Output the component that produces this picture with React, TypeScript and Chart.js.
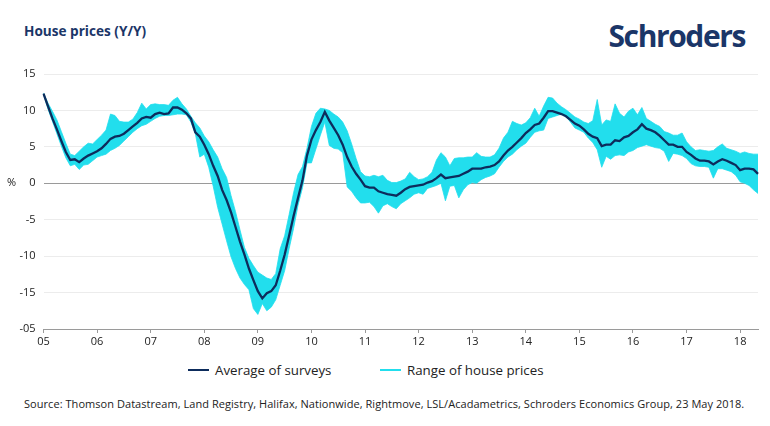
import React, { useEffect, useRef } from "react";
import { Chart, registerables } from "chart.js";

Chart.register(...registerables);

// ---------- data ----------
const YEARS = ["05", "06", "07", "08", "09", "10", "11", "12", "13", "14", "15", "16", "17", "18"];
const MONTHS_IN_LAST_YEAR = 5;

// Average of surveys, Y/Y %, monthly Jan 2005 .. May 2018
const AVERAGE = [
  12.3, 10.6, 8.9, 7.4, 5.8, 4.3, 3.2, 3.3, 2.9, 3.4, 3.8, 4.1,
  4.4, 4.8, 5.4, 6.1, 6.4, 6.5, 6.8, 7.3, 7.8, 8.3, 8.9, 9.1,
  9.0, 9.5, 9.7, 9.5, 9.6, 10.4, 10.4, 10.1, 9.6, 8.9, 7.0, 6.4,
  5.3, 4.0, 2.4, 1.0, -0.9, -2.3, -4.0, -6.0, -8.0, -9.8, -11.7, -13.3,
  -14.8, -15.8, -15.1, -14.8, -14.0, -12.0, -9.8, -7.2, -4.5, -2.0, 0.4, 3.8,
  6.0, 7.3, 8.4, 9.8, 8.6, 7.6, 6.6, 5.3, 3.6, 2.3, 1.3, 0.5,
  -0.4, -0.6, -0.6, -1.1, -1.3, -1.5, -1.6, -1.7, -1.3, -0.8, -0.5, -0.4,
  -0.3, -0.2, 0.1, 0.3, 0.7, 1.2, 0.7, 0.8, 0.9, 1.0, 1.3, 1.6,
  2.0, 2.0, 2.0, 2.2, 2.3, 2.5, 3.0, 3.8, 4.5, 5.0, 5.6, 6.2,
  6.9, 7.4, 8.0, 8.2, 9.0, 9.9, 9.9, 9.7, 9.5, 9.2, 8.7, 8.2,
  7.9, 7.4, 6.8, 6.4, 6.2, 5.1, 5.3, 5.3, 5.9, 5.8, 6.3, 6.5,
  7.0, 7.4, 8.1, 7.5, 7.3, 7.0, 6.5, 5.9, 5.3, 5.3, 5.0, 5.0,
  4.3, 3.9, 3.4, 3.1, 3.1, 3.0, 2.6, 3.0, 3.3, 3.1, 2.8, 2.5,
  1.8, 2.0, 2.0, 1.9, 1.3,
];

// Range of house prices: highest survey
const RANGE_HIGH = [
  12.4, 11.0, 9.9, 8.7, 7.1, 5.5, 4.0, 3.8, 4.4, 5.0, 5.5, 5.4,
  6.0, 6.6, 7.3, 9.5, 9.3, 8.5, 8.4, 8.4, 8.8, 9.7, 11.0, 10.2,
  10.8, 10.9, 10.8, 10.8, 10.7, 11.4, 11.8, 10.9, 10.2, 9.2, 8.3, 7.6,
  6.5, 5.7, 4.6, 3.6, 2.0, 0.8, -1.7, -3.9, -6.4, -8.8, -10.3, -11.3,
  -12.2, -12.6, -13.0, -13.2, -12.4, -9.0, -7.2, -4.3, -1.3, 1.2, 2.3, 4.8,
  7.8, 9.6, 10.3, 10.2, 10.0, 9.5, 9.1, 8.4, 7.2, 5.4, 3.4, 1.6,
  1.0, 0.9, 1.1, 0.9, 1.1, 0.4, 0.1, 0.1, 0.3, 0.6, 1.5, 0.9,
  0.5, 0.6, 0.9, 1.5, 3.2, 4.2, 3.6, 2.4, 3.4, 3.5, 3.5, 3.6,
  3.6, 4.2, 3.7, 3.6, 3.6, 3.9, 4.8, 6.2, 7.0, 8.5, 8.2, 8.0,
  8.3, 9.0, 10.3, 9.2, 10.6, 11.8, 11.7, 11.0, 10.5, 10.1, 9.6, 9.1,
  8.8, 8.4, 8.2, 8.6, 11.5, 8.0, 8.7, 8.5, 10.9, 9.6, 9.1, 9.9,
  10.3, 9.4, 10.4, 8.9, 8.5, 8.1, 7.8, 7.1, 6.9, 6.6, 6.6, 6.9,
  5.7, 5.0, 4.5, 4.6, 4.5, 4.4, 4.5, 5.0, 5.4, 4.8, 4.6, 4.4,
  4.1, 4.3, 4.1, 4.0, 4.0,
];

// Range of house prices: lowest survey
const RANGE_LOW = [
  12.2, 10.2, 8.5, 6.8, 5.1, 3.5, 2.4, 2.6, 1.9, 2.5, 2.6, 3.1,
  3.6, 3.8, 4.0, 4.5, 4.8, 5.2, 5.8, 6.4, 7.0, 7.5, 7.9, 8.1,
  8.5, 8.9, 9.2, 9.3, 9.3, 9.4, 9.5, 9.5, 9.4, 8.4, 6.8, 3.6,
  4.0, 2.2, -0.4, -3.3, -5.6, -7.9, -10.1, -11.7, -13.0, -13.9, -14.6, -17.2,
  -18.0, -16.5, -17.5, -17.0, -16.0, -14.0, -12.0, -9.0, -6.2, -3.0, -0.6, 2.8,
  2.8, 4.7, 6.6, 8.4, 5.2, 4.8, 4.7, 4.2, -0.5, -1.1, -2.0, -2.7,
  -2.7, -2.6, -3.2, -4.1, -3.1, -2.8, -3.2, -3.5, -2.8, -2.4, -2.0, -1.5,
  -1.3, -1.5, -0.7, -0.5, -0.3, 0.0, -2.4, -0.4, -0.3, -2.0, -0.9, -0.2,
  0.1, 0.0, 0.5, 0.8, 1.0, 1.3, 2.2, 3.0, 3.6, 4.0, 4.6, 5.1,
  5.5, 6.3, 7.0, 7.2, 7.3, 8.9, 9.1, 9.3, 9.5, 9.2, 8.4, 7.6,
  7.3, 7.0, 6.2, 5.6, 4.6, 2.2, 3.7, 3.3, 3.8, 3.9, 3.8, 4.3,
  4.5, 4.9, 5.1, 5.3, 5.1, 4.9, 4.8, 4.4, 3.0, 4.1, 4.0, 3.8,
  3.4, 2.7, 2.4, 2.3, 2.3, 2.2, 0.7, 2.0, 2.0, 1.8, 1.6, 1.1,
  0.2, 0.0, -0.3, -0.9, -1.4,
];

const Y_TICK_VALUES = [15, 10, 5, 0, -5, -10, -15, -20];
const Y_TICK_LABELS = ["15", "10", "5", "0", "-5", "-10", "-15", "-05"];

const SERIES_NAMES = ["Average of surveys", "Range of house prices"];
const SERIES_COLORS = ["#0d2c5c", "#22deed"];

const TITLE = "House prices (Y/Y)";
const BRAND = "Schroders";
const UNIT = "%";
const SOURCE =
  "Source: Thomson Datastream, Land Registry, Halifax, Nationwide, Rightmove, LSL/Acadametrics, Schroders Economics Group, 23 May 2018.";

const MONTH_LABELS: string[] = YEARS.flatMap((y, i) =>
  Array.from({ length: i === YEARS.length - 1 ? MONTHS_IN_LAST_YEAR : 12 }, () => y)
);

const FONT = "'Open Sans', 'DejaVu Sans', sans-serif";
const NAVY = "#1b3668";

export default function App() {
  const canvasRef = useRef<HTMLCanvasElement>(null);

  useEffect(() => {
    const canvas = canvasRef.current;
    if (!canvas) return;
    const chart = new Chart(canvas, {
      type: "line",
      data: {
        labels: MONTH_LABELS,
        datasets: [
          {
            label: SERIES_NAMES[0],
            data: AVERAGE,
            borderColor: SERIES_COLORS[0],
            backgroundColor: SERIES_COLORS[0],
            borderWidth: 2.3,
            pointRadius: 0,
            tension: 0,
            fill: false,
          },
          {
            label: SERIES_NAMES[1],
            data: RANGE_HIGH,
            borderColor: SERIES_COLORS[1],
            backgroundColor: SERIES_COLORS[1],
            borderWidth: 0.8,
            pointRadius: 0,
            tension: 0,
            fill: "+1",
          },
          {
            label: SERIES_NAMES[1] + " (low)",
            data: RANGE_LOW,
            borderColor: SERIES_COLORS[1],
            backgroundColor: SERIES_COLORS[1],
            borderWidth: 0.8,
            pointRadius: 0,
            tension: 0,
            fill: false,
          },
        ],
      },
      options: {
        responsive: false,
        animation: false,
        events: [],
        layout: { padding: { left: 0, right: 12, top: 74, bottom: 0 } },
        plugins: {
          legend: { display: false },
          tooltip: { enabled: false },
        },
        scales: {
          x: {
            type: "category",
            grid: {
              display: true,
              drawOnChartArea: false,
              drawTicks: true,
              tickLength: 4,
              color: "#9a9a9a",
            },
            border: { display: true, color: "#9a9a9a", width: 1 },
            ticks: {
              autoSkip: false,
              maxRotation: 0,
              padding: 2,
              color: "#222",
              font: { family: FONT, size: 11 },
              callback: (_v: any, index: number) => (index % 12 === 0 ? MONTH_LABELS[index] : null),
            },
            afterFit: (scale: any) => {
              scale.height = 22;
            },
          },
          y: {
            min: -20,
            max: 15,
            grid: {
              drawTicks: false,
              color: (ctx: any) => (ctx.tick && ctx.tick.value === 0 ? "#9a9a9a" : "#ececec"),
              lineWidth: 1,
            },
            border: { display: false },
            ticks: {
              stepSize: 5,
              padding: 8,
              color: "#222",
              font: { family: FONT, size: 11 },
              callback: (v: any) => {
                const i = Y_TICK_VALUES.indexOf(Number(v));
                return i >= 0 ? Y_TICK_LABELS[i] : null;
              },
            },
            afterFit: (scale: any) => {
              scale.width = 43.5;
            },
          },
        },
      },
    });
    return () => chart.destroy();
  }, []);

  const legendItems = [
    { name: SERIES_NAMES[0], color: SERIES_COLORS[0], left: 188 },
    { name: SERIES_NAMES[1], color: SERIES_COLORS[1], left: 380 },
  ];

  return (
    <div
      style={{
        position: "absolute",
        left: 0,
        top: 0,
        width: 770,
        height: 426,
        background: "#fff",
        overflow: "hidden",
        fontFamily: FONT,
      }}
    >
      <div
        style={{
          position: "absolute",
          left: 24,
          top: 21,
          fontSize: 13.6,
          fontWeight: 700,
          color: NAVY,
          whiteSpace: "nowrap",
        }}
      >
        {TITLE}
      </div>
      <div
        style={{
          position: "absolute",
          right: 25,
          top: 15,
          fontSize: 30,
          lineHeight: "41px",
          fontWeight: 700,
          color: NAVY,
          letterSpacing: -1.4,
          whiteSpace: "nowrap",
        }}
      >
        {BRAND}
      </div>
      <canvas
        ref={canvasRef}
        width={770}
        height={351}
        style={{ position: "absolute", left: 0, top: 0, width: 770, height: 351 }}
      />
      <div
        style={{
          position: "absolute",
          left: 7,
          top: 174,
          fontSize: 11,
          color: "#222",
        }}
      >
        {UNIT}
      </div>
      {legendItems.map((it) => (
        <div
          key={it.name}
          style={{
            position: "absolute",
            left: it.left,
            top: 361,
            height: 18,
            display: "flex",
            alignItems: "center",
            whiteSpace: "nowrap",
          }}
        >
          <span
            style={{
              display: "inline-block",
              width: 21,
              height: 2.5,
              background: it.color,
              marginRight: 6,
            }}
          />
          <span style={{ fontSize: 13.3, color: "#222" }}>{it.name}</span>
        </div>
      ))}
      <div
        style={{
          position: "absolute",
          left: 24,
          top: 396,
          fontSize: 11,
          color: "#222",
          whiteSpace: "nowrap",
          letterSpacing: 0.05,
        }}
      >
        {SOURCE}
      </div>
    </div>
  );
}
